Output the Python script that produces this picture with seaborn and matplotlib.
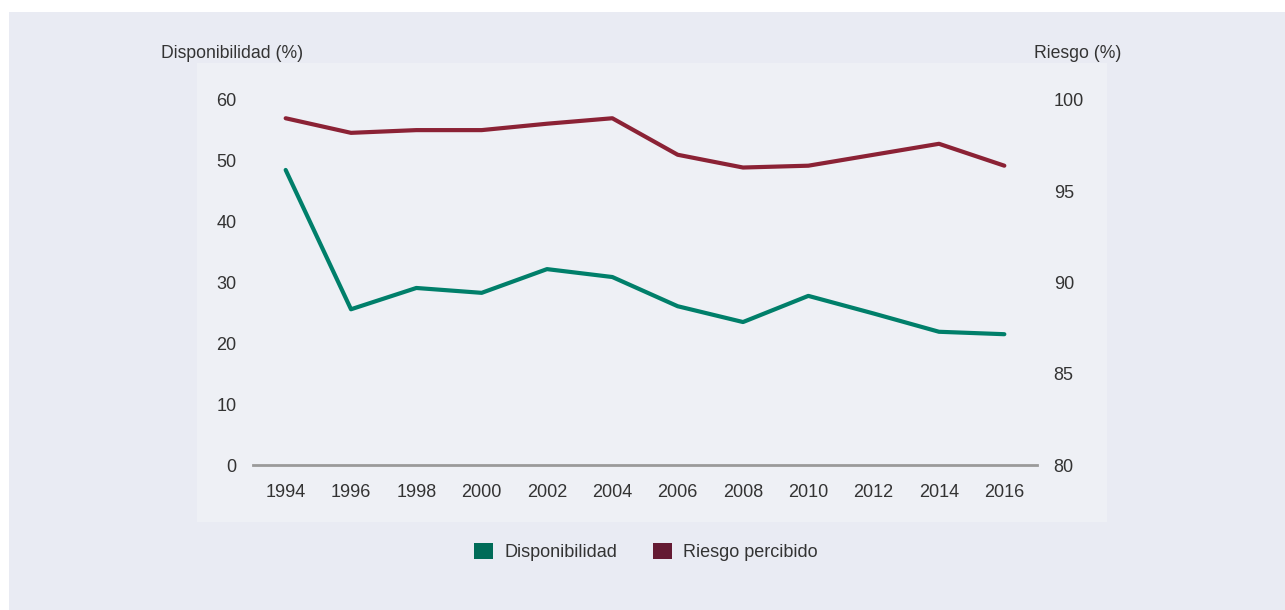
import matplotlib
matplotlib.use("Agg")
import matplotlib.pyplot as plt
from matplotlib.patches import Rectangle, Patch
import seaborn as sns
import pandas as pd

# data
years = [1994, 1996, 1998, 2000, 2002, 2004, 2006, 2008, 2010, 2012, 2014, 2016]
disponibilidad = [48.5, 25.6, 29.1, 28.3, 32.2, 30.9, 26.1, 23.5, 27.8, 24.9, 21.9, 21.5]
riesgo = [99.0, 98.2, 98.35, 98.35, 98.7, 99.0, 97.0, 96.3, 96.4, 97.0, 97.6, 96.4]
left_ticks = [0, 10, 20, 30, 40, 50, 60]
right_ticks = [80, 85, 90, 95, 100]

green = "#007f6a"
red = "#8b2235"
text_col = "#333333"

df = pd.DataFrame({"year": years, "Disponibilidad": disponibilidad, "Riesgo": riesgo})

sns.set_theme(style="white")
plt.rcParams["font.family"] = ["Liberation Sans", "DejaVu Sans"]

W, H = 1285, 610
fig = plt.figure(figsize=(W / 100, H / 100), dpi=100, facecolor="white")

# background panels
fig.patches.append(Rectangle((9 / W, 0), 1, 1 - 12 / H, transform=fig.transFigure,
                             facecolor="#e9ebf3", edgecolor="none", zorder=-2))
fig.patches.append(Rectangle((197 / W, 1 - 522 / H), 910 / W, 459 / H, transform=fig.transFigure,
                             facecolor="#eef0f5", edgecolor="none", zorder=-1))

ax = fig.add_axes([253 / W, 1 - 465 / H, 784 / W, 365 / H])
ax.patch.set_alpha(0)
ax2 = ax.twinx()
ax2.patch.set_alpha(0)

sns.lineplot(data=df, x="year", y="Disponibilidad", ax=ax, color=green, linewidth=3.0)
sns.lineplot(data=df, x="year", y="Riesgo", ax=ax2, color=red, linewidth=3.0)

ax.set_xlim(1993, 2017)
ax.set_ylim(0, 60)
ax2.set_ylim(80, 100)
ax.set_xticks(years)
ax.set_xticklabels([str(y) for y in years])
ax.set_yticks(left_ticks)
ax2.set_yticks(right_ticks)

for a in (ax, ax2):
    a.set_xlabel("")
    a.set_ylabel("")
    for s in a.spines.values():
        s.set_visible(False)
    a.grid(False)

ax.spines["bottom"].set_visible(True)
ax.spines["bottom"].set_color("#9a9a9a")
ax.spines["bottom"].set_linewidth(2)

ax.tick_params(axis="x", length=0, pad=13.5, labelsize=13, labelcolor=text_col)
ax.tick_params(axis="y", length=0, pad=12, labelsize=13, labelcolor=text_col)
ax2.tick_params(axis="y", length=0, pad=12, labelsize=13, labelcolor=text_col)

fig.text(161 / W, 1 - 54 / H, "Disponibilidad (%)", ha="left", va="center",
         fontsize=12.7, color=text_col)
fig.text(1034 / W, 1 - 54 / H, "Riesgo (%)", ha="left", va="center",
         fontsize=12.7, color=text_col)

handles = [Patch(facecolor="#006b58", edgecolor="none", label="Disponibilidad"),
           Patch(facecolor="#641a33", edgecolor="none", label="Riesgo percibido")]
fig.legend(handles=handles, loc="center", bbox_to_anchor=(646 / W, 1 - 552 / H), ncol=2,
           frameon=False, fontsize=13, handlelength=1.05, handleheight=1.05,
           handletextpad=0.6, columnspacing=2.0, labelcolor=text_col)

fig.savefig("out.png", dpi=100, facecolor="white")
